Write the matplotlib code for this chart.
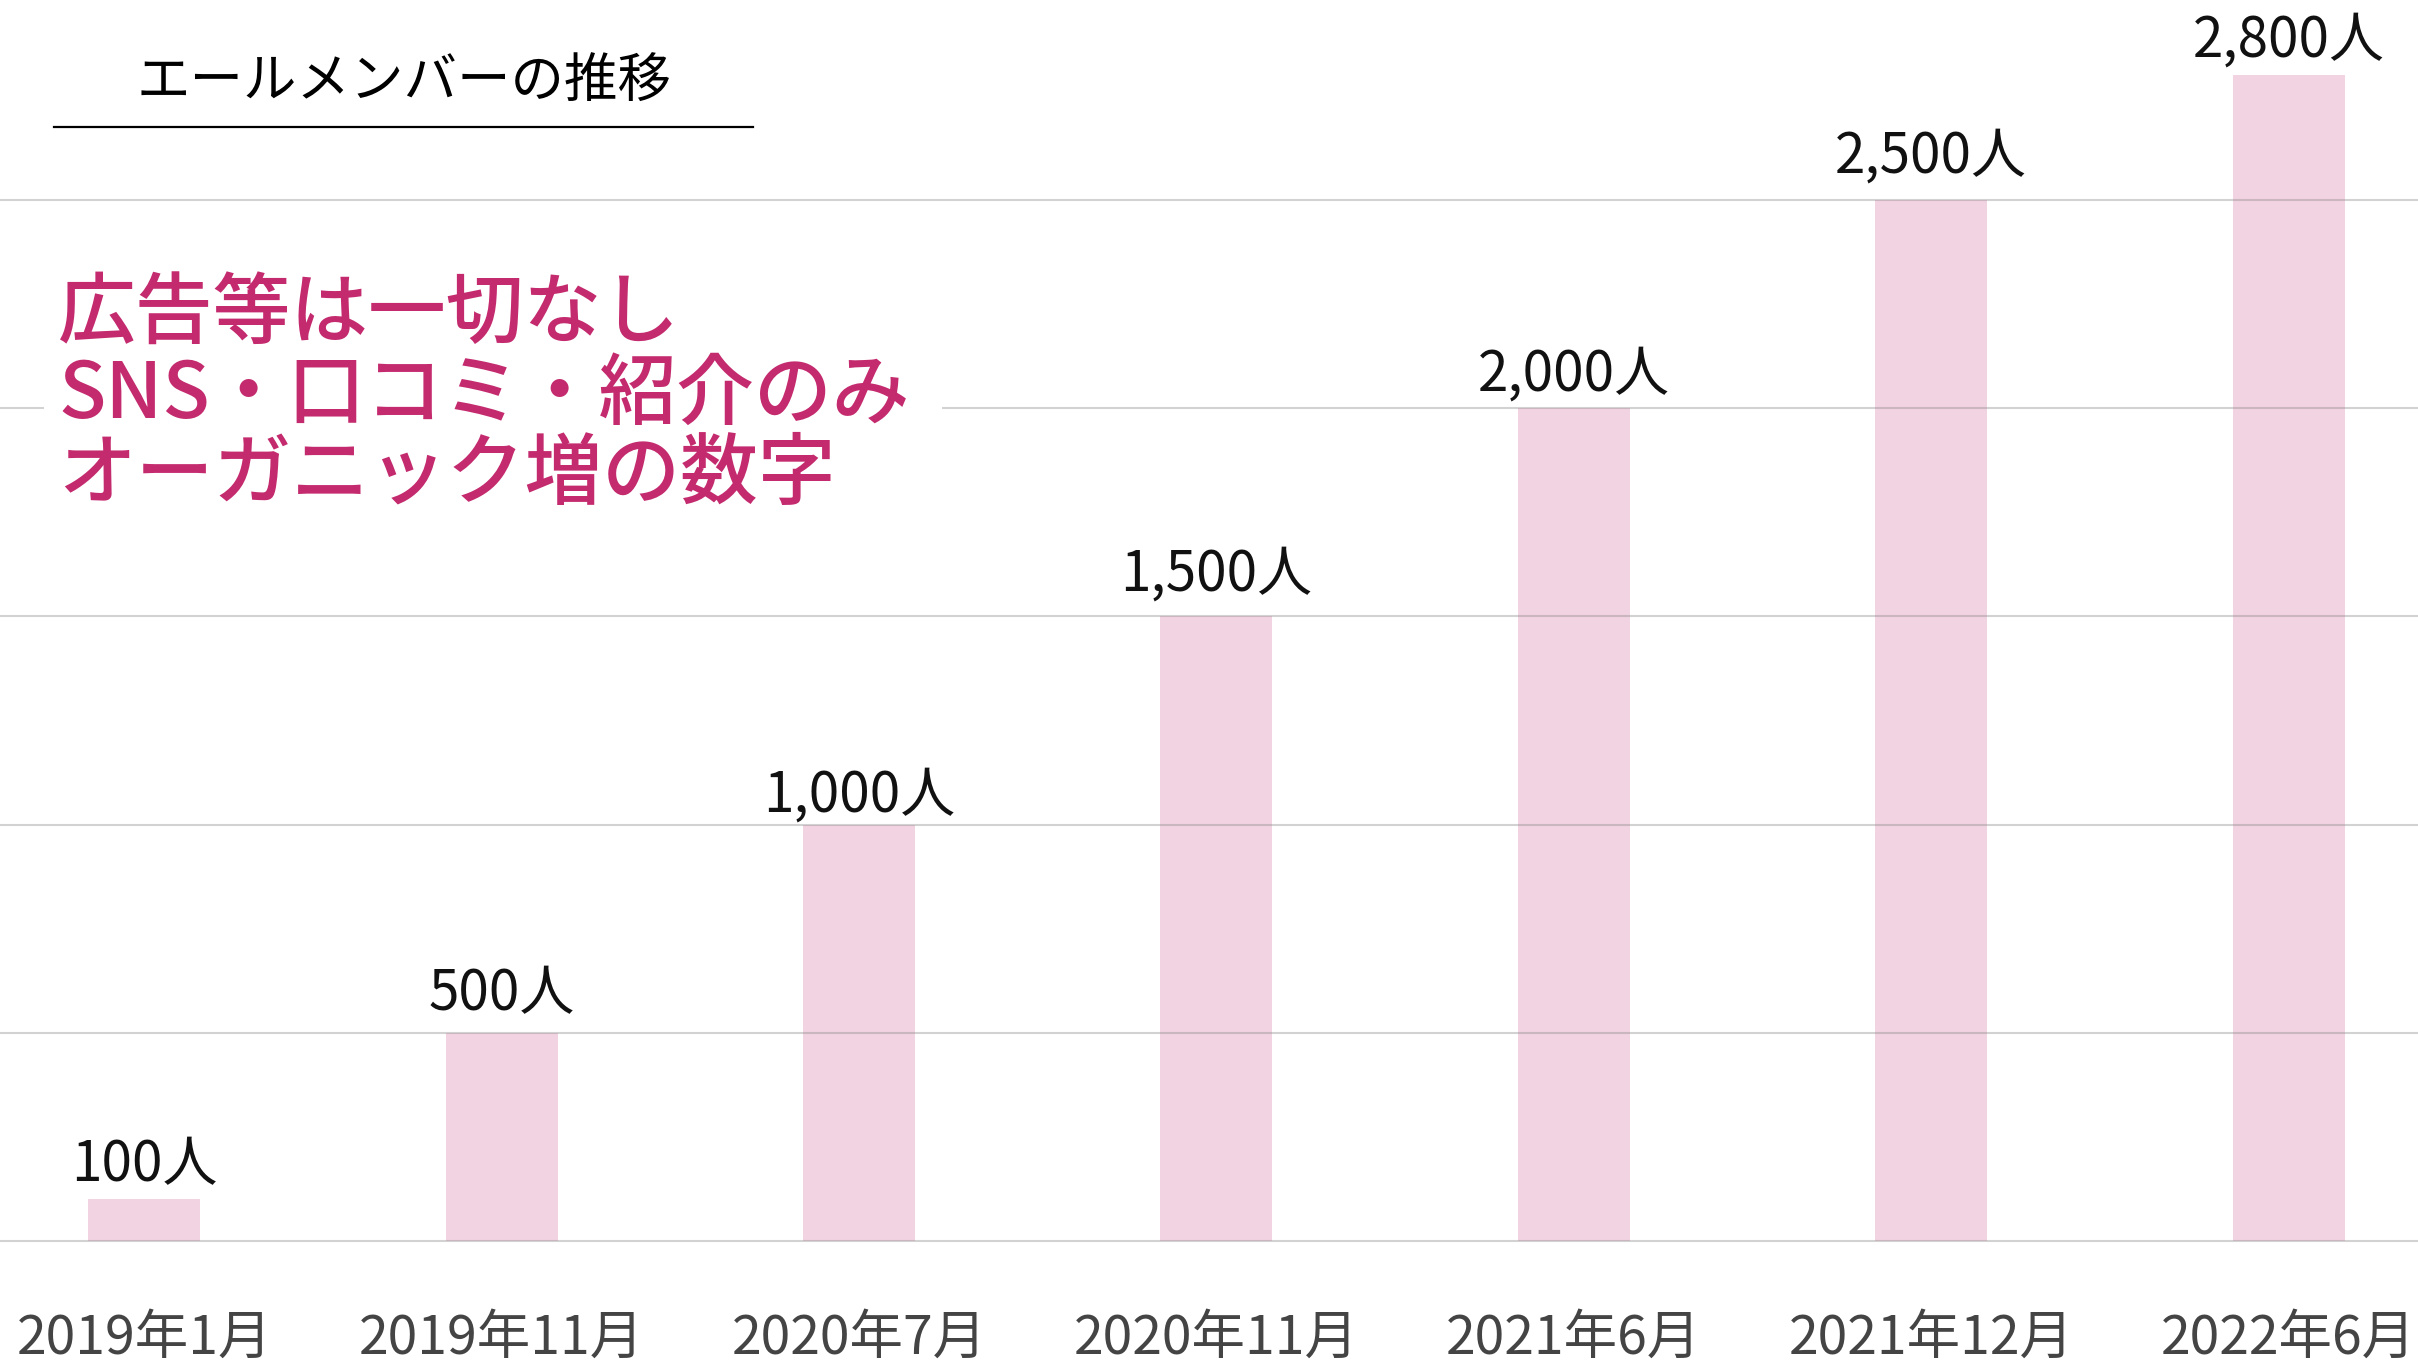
import matplotlib
matplotlib.use("Agg")
import matplotlib.pyplot as plt
from matplotlib.patches import Rectangle
from matplotlib.lines import Line2D

plt.rcParams['font.family'] = ['Noto Sans CJK JP', 'DejaVu Sans']

# data
categories = ['2019年1月', '2019年11月', '2020年7月', '2020年11月',
              '2021年6月', '2021年12月', '2022年6月']
members = [100, 500, 1000, 1500, 2000, 2500, 2800]
grid_values = [0, 500, 1000, 1500, 2000, 2500]
title = 'エールメンバーの推移'
note_lines = ['広告等は一切なし', 'SNS・口コミ・紹介のみ', 'オーガニック増の数字']
# gap between bar top and value label, in points (uneven in the original)
label_gaps = [13, 16.5, 9.5, 18.7, 13, 19.4, 13]

W, H = 2418, 1364
fig = plt.figure(figsize=(W / 100, H / 100), dpi=100)
ax = fig.add_axes([0, (H - 1241) / H, 1, 1241 / H])

x = range(len(categories))
ax.bar(x, members, width=0.313, color='#f2d3e2', zorder=2)

# grid lines drawn over the bars
for g in grid_values:
    ax.axhline(g, color='#808080', alpha=0.35, lw=1.5, zorder=3, clip_on=False)

for i, v in enumerate(members):
    ax.annotate(f'{v:,}人', (i, v), xytext=(0, label_gaps[i]),
                textcoords='offset points', ha='center', va='baseline',
                fontsize=39.5, color='#111111')

ax.set_xlim(-0.4035, 6.362)
ax.set_ylim(0, 2980)
ax.set_xticks(list(x))
ax.set_xticklabels(categories, fontsize=38.5, color='#444444')
ax.tick_params(axis='x', length=0, pad=50)
ax.set_yticks([])
for s in ax.spines.values():
    s.set_visible(False)

# title with underline
fig.text(404 / W, 1 - 82 / H, title, ha='center', va='center',
         fontsize=38.5, color='black')
fig.add_artist(Line2D([54 / W, 753 / W], [1 - 127 / H, 1 - 127 / H],
                      color='black', lw=1.6, transform=fig.transFigure))

# pink note on a white box
fig.add_artist(Rectangle((44 / W, 1 - 515 / H), (942 - 44) / W, (515 - 262) / H,
                         facecolor='white', edgecolor='none',
                         transform=fig.transFigure, zorder=1))
baselines = [337, 418, 498]
for line, b in zip(note_lines, baselines):
    fig.text(58 / W, 1 - b / H, line, ha='left', va='baseline', fontsize=56,
             fontweight='medium', color='#c42a6e', zorder=4)

fig.savefig('out.png', dpi=100, facecolor='white')
